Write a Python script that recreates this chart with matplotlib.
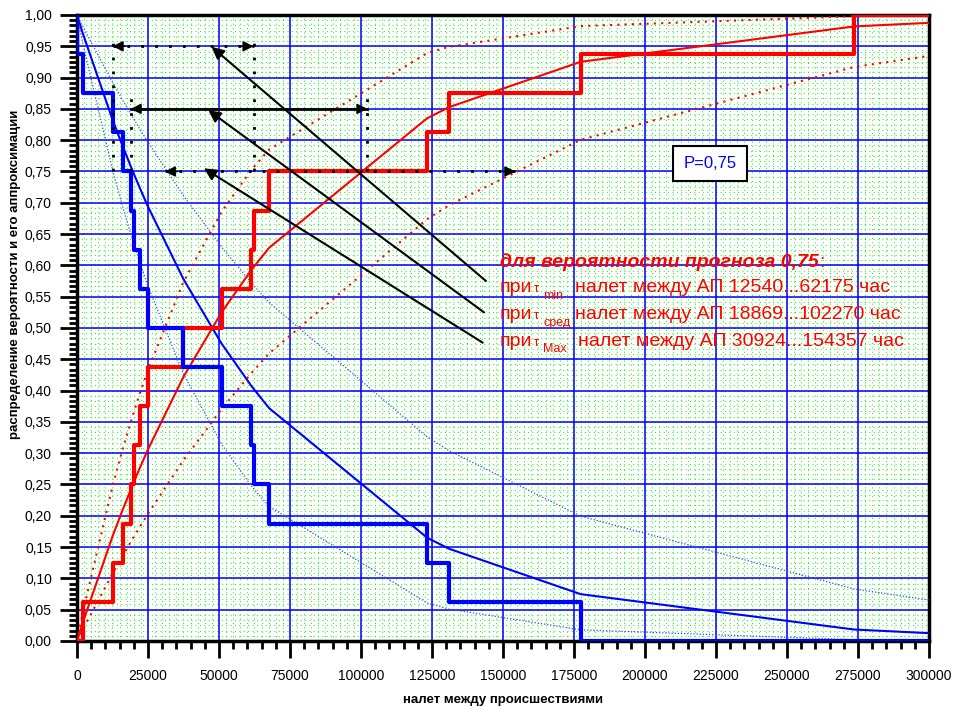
import numpy as np
import matplotlib
matplotlib.use("Agg")
import matplotlib.pyplot as plt
from matplotlib.ticker import MultipleLocator, FuncFormatter

plt.rcParams['font.family'] = ['Liberation Sans', 'DejaVu Sans']

# times between events (flight hours), sorted
t_events = [2000, 12540, 16080, 19000, 20070, 22180, 24880, 37430,
            50930, 61150, 62175, 67700, 123340, 131000, 177340, 273600]

# empirical distribution (red steps) and its complement (blue steps)
red_step_x = [0] + t_events + [300000]
red_step_y = [0.0, 0.0625, 0.125, 0.1875, 0.25, 0.3125, 0.375, 0.4375, 0.5,
              0.5625, 0.625, 0.6875, 0.75, 0.8125, 0.875, 0.9375, 1.0, 1.0]
blue_step_x = [0, 0] + t_events[:15] + [300000]
blue_step_y = [1.0, 0.9375, 0.875, 0.8125, 0.75, 0.6875, 0.625, 0.5625, 0.5,
               0.4375, 0.375, 0.3125, 0.25, 0.1875, 0.125, 0.0625, 0.0, 0.0]

# approximations evaluated at the event times
fit_x = [0] + t_events + [300000]
fit_mid = [0.0, 0.0288, 0.1675, 0.2095, 0.2425, 0.2543, 0.2769, 0.3049, 0.4215,
           0.5251, 0.5910, 0.5971, 0.6283, 0.8352, 0.8527, 0.9252, 0.9817, 0.9875]
fit_min = [0.0, 0.0444, 0.2480, 0.3061, 0.3507, 0.3663, 0.3960, 0.4319, 0.5729,
           0.6857, 0.7509, 0.7566, 0.7853, 0.9394, 0.9491, 0.9822, 0.9980, 0.9989]
fit_max = [0.0, 0.0180, 0.1077, 0.1360, 0.1586, 0.1668, 0.1826, 0.2024, 0.2884,
           0.3706, 0.4265, 0.4318, 0.4596, 0.6741, 0.6960, 0.8006, 0.9169, 0.9346]

# forecast intervals for P = 0,75
intervals_min = (12540, 62175)
intervals_mid = (18869, 102270)
intervals_max = (30924, 154357)

fig = plt.figure(figsize=(9.54, 7.07), dpi=100)
ax = fig.add_axes([0.0807, 0.0934, 0.8931, 0.8854])

# grids
for gx in np.arange(2500, 300000, 2500):
    ax.axvline(gx, color='#00ff00', lw=0.7, ls=(0, (1, 3.5)), zorder=0)
for gy in np.arange(0.05 / 6, 1.0, 0.05 / 6):
    ax.axhline(gy, color='#00ff00', lw=0.7, ls=(0, (1, 3.5)), zorder=0)
ax.grid(which='major', color='#0000ff', lw=1.1, zorder=1)
ax.set_axisbelow(True)

# approximations
fit_mid = np.array(fit_mid)
fit_min = np.array(fit_min)
fit_max = np.array(fit_max)
ax.plot(fit_x, fit_mid, color='red', lw=1.5, zorder=3)
ax.plot(fit_x, 1 - fit_mid, color='blue', lw=1.5, zorder=3)
ax.plot(fit_x, fit_min, color='red', lw=1.5, ls=(0, (1, 2.5)), zorder=3)
ax.plot(fit_x, fit_max, color='red', lw=1.5, ls=(0, (1, 2.5)), zorder=3)
ax.plot(fit_x, 1 - fit_min, color='#4040ff', lw=0.9, ls=(0, (1, 1.5)), zorder=3)
ax.plot(fit_x, 1 - fit_max, color='#4040ff', lw=0.9, ls=(0, (1, 1.5)), zorder=3)

# empirical steps
ax.step(red_step_x, red_step_y, where='post', color='red', lw=3, zorder=4)
ax.step(blue_step_x, blue_step_y, where='post', color='blue', lw=3, zorder=4)


def double_arrow(x0, x1, y, dotted):
    ls = (0, (1, 4)) if dotted else '-'
    ax.plot([x0, x1], [y, y], color='black', lw=2, ls=ls, zorder=5)
    d = 4500
    ax.annotate('', xy=(x0, y), xytext=(x0 + d, y),
                arrowprops=dict(arrowstyle='-|>', color='black', lw=1,
                                mutation_scale=16, shrinkA=0, shrinkB=0), zorder=6)
    ax.annotate('', xy=(x1, y), xytext=(x1 - d, y),
                arrowprops=dict(arrowstyle='-|>', color='black', lw=1,
                                mutation_scale=16, shrinkA=0, shrinkB=0), zorder=6)


double_arrow(intervals_min[0], intervals_min[1], 0.95, True)
double_arrow(intervals_mid[0], intervals_mid[1], 0.85, False)
double_arrow(intervals_max[0], intervals_max[1], 0.75, True)

# vertical markers
for xv in intervals_min:
    ax.plot([xv, xv], [0.75, 0.97], color='black', lw=2, ls=(0, (1, 4)), zorder=5)
for xv in intervals_mid:
    ax.plot([xv, xv], [0.75, 0.877], color='black', lw=2, ls=(0, (1, 4)), zorder=5)

# pointers from the text
for tail, head in [((144000, 0.575), (47430, 0.949)),
                   ((143300, 0.525), (46230, 0.848)),
                   ((142850, 0.4766), (44720, 0.755))]:
    ax.annotate('', xy=head, xytext=tail,
                arrowprops=dict(arrowstyle='-|>', color='black', lw=1.5,
                                mutation_scale=18, shrinkA=0, shrinkB=0), zorder=6)

# annotation text
ax.text(148940, 0.598, 'для вероятности прогноза 0,75', color='red', fontsize=14,
        fontweight='bold', fontstyle='italic', zorder=7)
ax.text(261500, 0.598, ':', color='red', fontsize=14, zorder=7)
rows = [(0.558, 0.546, 'min', 175350, 'налет между АП 12540...62175 час'),
        (0.514, 0.503, 'сред', 175350, 'налет между АП 18869...102270 час'),
        (0.471, 0.462, 'Max', 176400, 'налет между АП 30924...154357 час')]
for yb, ys, sub, xt, txt in rows:
    ax.text(148940, yb, 'при', color='red', fontsize=14, zorder=7)
    ax.text(160900, yb, 'τ', color='red', fontsize=9, zorder=7)
    ax.text(164100, ys, sub, color='red', fontsize=9, zorder=7)
    ax.text(xt, yb, txt, color='red', fontsize=14, zorder=7)

ax.text(222900, 0.762, 'P=0,75', color='blue', fontsize=12, ha='center', va='center',
        bbox=dict(boxstyle='square,pad=0.6', fc='white', ec='black', lw=1.5), zorder=7)

# axes
ax.set_xlim(0, 300000)
ax.set_ylim(0, 1.0)
ax.xaxis.set_major_locator(MultipleLocator(25000))
ax.xaxis.set_minor_locator(MultipleLocator(5000))
ax.yaxis.set_major_locator(MultipleLocator(0.05))
ax.yaxis.set_minor_locator(MultipleLocator(0.05 / 6))
ax.yaxis.set_major_formatter(FuncFormatter(lambda v, p: f'{v:.2f}'.replace('.', ',')))
ax.xaxis.set_major_formatter(FuncFormatter(lambda v, p: f'{int(round(v))}'))
ax.tick_params(which='major', direction='out', length=12, width=2, labelsize=10)
ax.tick_params(which='minor', direction='out', length=6, width=2)
ax.tick_params(axis='y', which='major', pad=6)
ax.tick_params(axis='x', which='major', pad=8)
for s in ax.spines.values():
    s.set_linewidth(2.5)

ax.set_xlabel('налет между происшествиями', fontsize=9.5, fontweight='bold', labelpad=8)
ax.set_ylabel('распределение вероятности и его аппроксимации', fontsize=9.5,
              fontweight='bold')
ax.yaxis.set_label_coords(-0.066, 0.586)

fig.savefig('out.png', dpi=100)
